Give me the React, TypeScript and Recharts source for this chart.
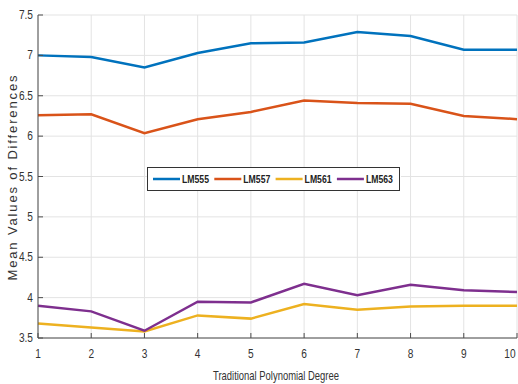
import { LineChart, Line, XAxis, YAxis, CartesianGrid } from "recharts";

const degrees = [1, 2, 3, 4, 5, 6, 7, 8, 9, 10];
const lm555 = [7.0, 6.98, 6.85, 7.03, 7.15, 7.16, 7.29, 7.24, 7.07, 7.07];
const lm557 = [6.26, 6.27, 6.035, 6.21, 6.3, 6.44, 6.41, 6.4, 6.25, 6.21];
const lm561 = [3.68, 3.63, 3.58, 3.78, 3.74, 3.92, 3.85, 3.89, 3.9, 3.9];
const lm563 = [3.9, 3.83, 3.59, 3.95, 3.94, 4.17, 4.03, 4.16, 4.09, 4.07];
const yTicks = [3.5, 4, 4.5, 5, 5.5, 6, 6.5, 7, 7.5];

const series = [
  { key: "LM555", color: "#0072BD" },
  { key: "LM557", color: "#D95319" },
  { key: "LM561", color: "#EDB120" },
  { key: "LM563", color: "#7E2F8E" },
];

const data = degrees.map((d, i) => ({
  degree: d,
  LM555: lm555[i],
  LM557: lm557[i],
  LM561: lm561[i],
  LM563: lm563[i],
}));

const font = '"Liberation Sans", Arial, sans-serif';
const axisColor = "#4d4d4d";
const textColor = "#333";

// narrow-looking tick text (no condensed font available)
function XTick(props: any) {
  const { x, y, payload } = props;
  return (
    <g transform={`translate(${x},${y}) scale(0.78,1)`}>
      <text textAnchor="middle" y={4} fontFamily={font} fontSize={13} fill={textColor}>
        {payload.value}
      </text>
    </g>
  );
}

function YTick(props: any) {
  const { x, y, payload } = props;
  return (
    <g transform={`translate(${x},${y}) scale(0.78,1)`}>
      <text textAnchor="end" dy={4} fontFamily={font} fontSize={13} fill={textColor}>
        {payload.value}
      </text>
    </g>
  );
}

function XLabel() {
  return (
    <text
      x={276}
      y={380}
      textAnchor="middle"
      fontFamily={font}
      fontSize={13}
      fill={textColor}
      textLength={126}
      lengthAdjust="spacingAndGlyphs"
    >
      Traditional Polynomial Degree
    </text>
  );
}

function YLabel() {
  return (
    <text
      x={0}
      y={0}
      transform="translate(17,178) rotate(-90)"
      textAnchor="middle"
      fontFamily={font}
      fontSize={13}
      fill={textColor}
      textLength={205}
      lengthAdjust="spacing"
    >
      Mean Values of Differences
    </text>
  );
}

function LegendBox() {
  return (
    <svg
      width={254}
      height={24}
      style={{ position: "absolute", left: 147, top: 167, background: "#fff" }}
    >
      <rect x={0.5} y={0.5} width={252} height={23} fill="#fff" stroke="#333" />
      {series.map((s, i) => {
        const x0 = 6 + i * 61.3;
        return (
          <g key={s.key}>
            <line x1={x0} x2={x0 + 27} y1={12} y2={12} stroke={s.color} strokeWidth={2.5} />
            <text
              x={x0 + 29}
              y={16}
              fontFamily={font}
              fontWeight={700}
              fontSize={11}
              fill="#222"
              textLength={27}
              lengthAdjust="spacingAndGlyphs"
            >
              {s.key}
            </text>
          </g>
        );
      })}
    </svg>
  );
}

export default function App() {
  return (
    <div style={{ position: "fixed", left: 0, top: 0, width: 518, height: 384, background: "#fff" }}>
      <LineChart
        width={518}
        height={384}
        data={data}
        margin={{ top: 15, right: 1, left: 0, bottom: 0 }}
      >
        <CartesianGrid stroke="#e3e3e3" strokeWidth={1} />
        <XAxis
          dataKey="degree"
          type="number"
          domain={[1, 10]}
          ticks={degrees}
          height={46}
          stroke={axisColor}
          tickSize={-5}
          tickMargin={21}
          tick={<XTick />}
          label={<XLabel />}
        />
        <XAxis
          xAxisId="top"
          orientation="top"
          dataKey="degree"
          type="number"
          domain={[1, 10]}
          ticks={degrees}
          height={0}
          stroke={axisColor}
          tickSize={-5}
          tick={false}
        />
        <YAxis
          type="number"
          domain={[3.5, 7.5]}
          ticks={yTicks}
          width={38}
          stroke={axisColor}
          tickSize={-5}
          tickMargin={10}
          tick={<YTick />}
          label={<YLabel />}
        />
        <YAxis
          yAxisId="right"
          orientation="right"
          type="number"
          domain={[3.5, 7.5]}
          ticks={yTicks}
          width={0}
          stroke={axisColor}
          tickSize={-5}
          tick={false}
        />
        {series.map((s) => (
          <Line
            key={s.key}
            dataKey={s.key}
            stroke={s.color}
            strokeWidth={2.5}
            dot={false}
            type="linear"
            isAnimationActive={false}
          />
        ))}
      </LineChart>
      <LegendBox />
    </div>
  );
}
